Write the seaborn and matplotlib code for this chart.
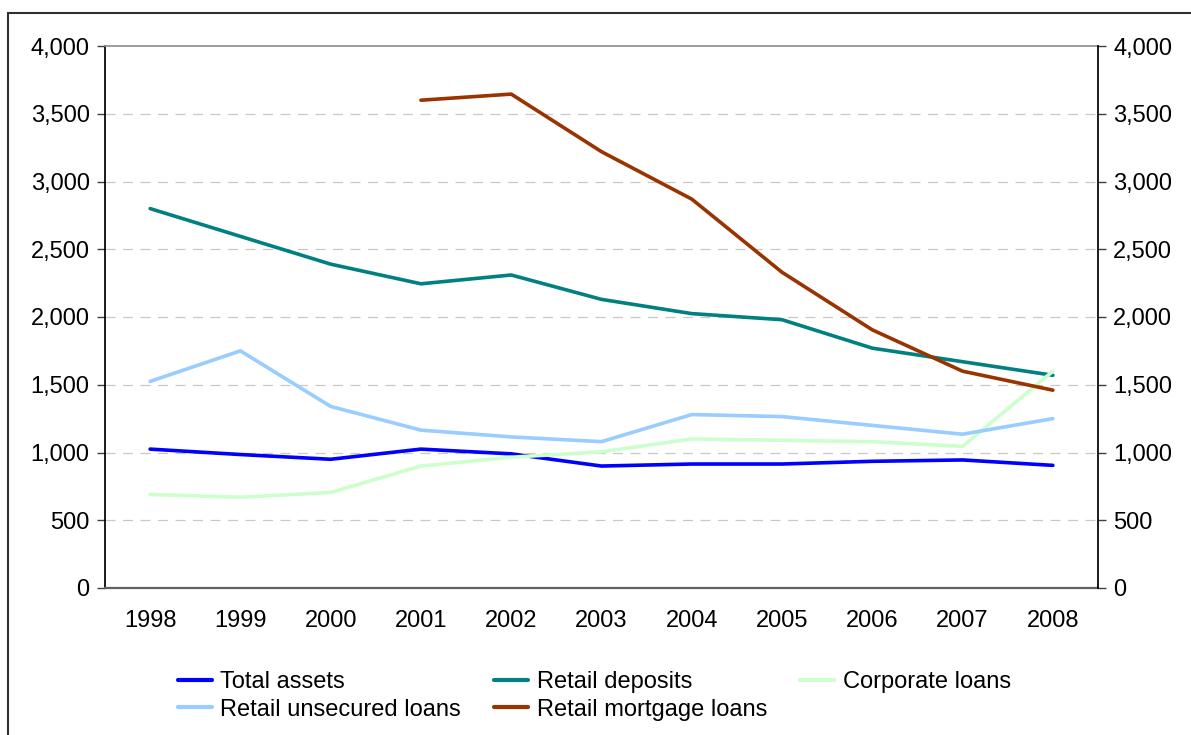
"""
Balance sheet indicators 1998-2008, five series on a shared
0-4,000 scale with a mirrored right-hand axis.
"""

import numpy as np
import pandas as pd
import matplotlib
matplotlib.use("Agg")
import matplotlib.pyplot as plt
import seaborn as sns
from matplotlib.patches import Rectangle

# Data
years = [1998, 1999, 2000, 2001, 2002, 2003, 2004, 2005, 2006, 2007, 2008]
total_assets = [1025, 985, 950, 1025, 990, 900, 915, 915, 935, 945, 905]
retail_deposits = [2800, 2595, 2390, 2245, 2310, 2130, 2025, 1980, 1770, 1670, 1570]
corporate_loans = [690, 670, 705, 900, 965, 1005, 1100, 1090, 1080, 1045, 1600]
retail_unsecured = [1525, 1750, 1340, 1165, 1115, 1080, 1280, 1265, 1200, 1135, 1250]
retail_mortgage = [np.nan, np.nan, np.nan, 3600, 3645, 3220, 2870, 2330, 1905, 1600, 1460]

series = {
    "Total assets": total_assets,
    "Retail deposits": retail_deposits,
    "Corporate loans": corporate_loans,
    "Retail unsecured loans": retail_unsecured,
    "Retail mortgage loans": retail_mortgage,
}
colors = {
    "Total assets": "#0000FF",
    "Retail deposits": "#008080",
    "Corporate loans": "#CCFFCC",
    "Retail unsecured loans": "#99CCFF",
    "Retail mortgage loans": "#993300",
}
y_ticks = [0, 500, 1000, 1500, 2000, 2500, 3000, 3500, 4000]

df = pd.DataFrame(
    [(name, yr, v) for name, vals in series.items() for yr, v in zip(years, vals)],
    columns=["Series", "Year", "Value"],
).dropna()

sns.set_theme(style="white")
plt.rcParams["font.family"] = ["Liberation Sans", "DejaVu Sans"]
plt.rcParams["text.color"] = "black"
plt.rcParams["xtick.color"] = "black"
plt.rcParams["ytick.color"] = "black"
FS = 17

fig = plt.figure(figsize=(11.91, 7.35), dpi=100)
ax = fig.add_axes([105 / 1191, 1 - 588 / 735, (1098 - 105) / 1191, (588 - 46) / 735])

sns.lineplot(
    data=df, x="Year", y="Value", hue="Series", hue_order=list(series),
    palette=colors, linewidth=2.6, ax=ax, legend=False, sort=False,
)

ax.set_xlim(years[0] - 0.5, years[-1] + 0.5)
ax.set_ylim(0, 4000)
ax.set_xlabel("")
ax.set_ylabel("")

ax.set_xticks(years)
ax.set_xticklabels([str(y) for y in years], fontsize=FS)
ax.set_xticks(np.arange(years[0] - 0.5, years[-1] + 1), minor=True)
ax.tick_params(axis="x", which="major", length=0, pad=16)
ax.tick_params(axis="x", which="minor", length=7, width=1.2, color="#606060", direction="out")

ax.set_yticks(y_ticks)
ax.set_yticklabels([f"{v:,}" for v in y_ticks], fontsize=FS)
ax.tick_params(axis="y", length=6, width=1, color="#404040", direction="out", pad=5, left=True)

for v in y_ticks[1:-1]:
    ax.axhline(v, color="#C8C8C8", linewidth=0.9, linestyle=(0, (8, 6)), zorder=0)

ax.spines["left"].set_color("black")
ax.spines["bottom"].set_color("#606060")
ax.spines["bottom"].set_linewidth(1.6)
ax.spines["top"].set_color("#909090")
ax.spines["right"].set_visible(False)

ax2 = ax.twinx()
ax2.set_ylim(0, 4000)
ax2.set_yticks(y_ticks)
ax2.set_yticklabels([f"{v:,}" for v in y_ticks], fontsize=FS)
ax2.tick_params(axis="y", length=6, width=1, color="#404040", direction="out", pad=5, right=True)
for side in ["left", "top", "bottom"]:
    ax2.spines[side].set_visible(False)
ax2.spines["right"].set_color("black")
ax2.grid(False)

# legend, filled column-wise so rows read TA/RD/CL then RU/RM
order = ["Total assets", "Retail unsecured loans", "Retail deposits",
         "Retail mortgage loans", "Corporate loans"]
handles = [plt.Line2D([], [], color=colors[n], linewidth=3) for n in order]
fig.legend(
    handles, order, loc="upper left", bbox_to_anchor=(166 / 1191, 1 - 659 / 735),
    ncol=3, frameon=False, fontsize=FS, borderpad=0, handlelength=1.45,
    handletextpad=0.35, columnspacing=1.4, labelspacing=0.25,
)

# outer chart frame
fig.patches.append(Rectangle(
    (8 / 1191, -0.05), 1.2, 1 - 13 / 735 + 0.05, transform=fig.transFigure,
    fill=False, edgecolor="#303030", linewidth=1.5,
))

fig.savefig("out.png", dpi=100)
